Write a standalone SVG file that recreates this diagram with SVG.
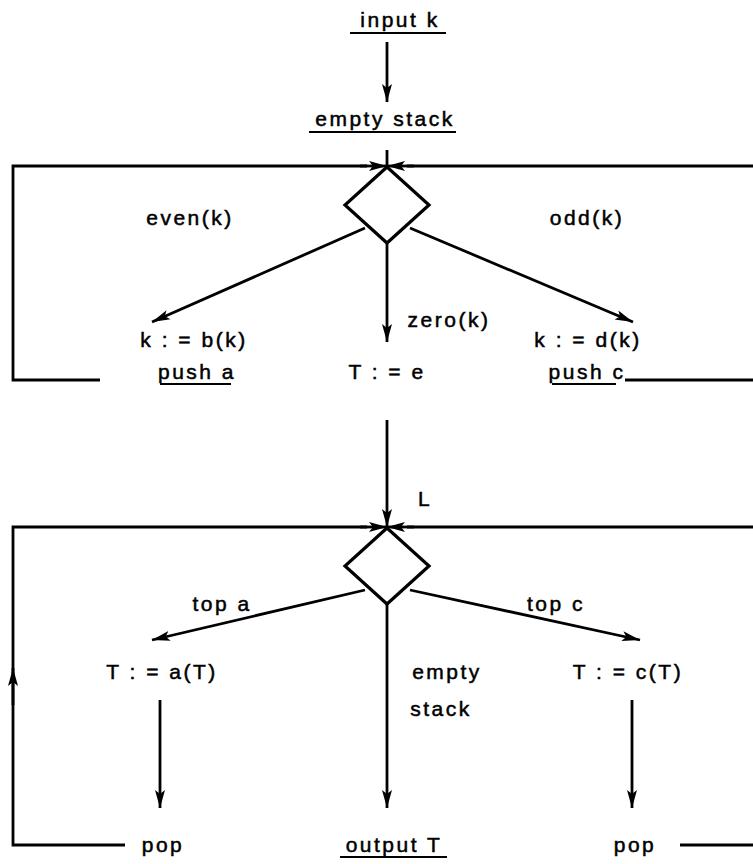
<svg xmlns="http://www.w3.org/2000/svg" width="753" height="864" viewBox="0 0 753 864">
  <defs>
    <marker id="arrow" viewBox="0 0 18 12" refX="18" refY="6" markerWidth="18" markerHeight="12" markerUnits="userSpaceOnUse" orient="auto">
      <path d="M0,1 L18,6 L0,11 L4,6 Z" fill="#000"/>
    </marker>
  </defs>
  <style>
    .t { font-family: "Liberation Sans", Arial, sans-serif; font-size: 21px; fill: #000; stroke: #000; stroke-width: 0.5; letter-spacing: 2.5px; text-anchor: middle; }
    .ln { fill: none; stroke: #000; stroke-width: 2.8; }
    .ar { fill: none; stroke: #000; stroke-width: 2.8; marker-end: url(#arrow); }
    .ul { stroke: #000; stroke-width: 2.2; }
    .dm { fill: #fff; stroke: #000; stroke-width: 3.2; }
  </style>

  <rect width="753" height="864" fill="#fff"/>

  <!-- connectors -->
  <g id="connectors">
    <!-- upper loop (push) -->
    <line class="ar" x1="387" y1="42" x2="387" y2="102"/>
    <line class="ln" x1="387" y1="150" x2="387" y2="168"/>
    <polyline class="ln" points="100,380 13,380 13,166 367,166"/>
    <polyline class="ln" points="625,380 753,380"/>
    <line class="ln" x1="753" y1="166" x2="407" y2="166"/>
    <line class="ar" x1="360" y1="166" x2="387" y2="166"/>
    <line class="ar" x1="414" y1="166" x2="387" y2="166"/>
    <line class="ar" x1="365" y1="228" x2="152" y2="322"/>
    <line class="ar" x1="410" y1="228" x2="633" y2="322"/>
    <line class="ar" x1="387" y1="243" x2="387" y2="342"/>

    <!-- lower loop (pop) -->
    <line class="ar" x1="387" y1="420" x2="387" y2="527"/>
    <polyline class="ln" points="125,845 13,845 13,527 367,527"/>
    <line class="ar" x1="13" y1="705" x2="13" y2="668"/>
    <line class="ln" x1="753" y1="527" x2="407" y2="527"/>
    <line class="ar" x1="360" y1="527" x2="387" y2="527"/>
    <line class="ar" x1="414" y1="527" x2="387" y2="527"/>
    <line class="ar" x1="365" y1="590" x2="152" y2="640"/>
    <line class="ar" x1="410" y1="590" x2="640" y2="640"/>
    <line class="ar" x1="387" y1="604" x2="387" y2="808"/>
    <line class="ar" x1="160" y1="700" x2="160" y2="808"/>
    <line class="ar" x1="632" y1="700" x2="632" y2="808"/>
    <line class="ln" x1="680" y1="845" x2="753" y2="845"/>
  </g>

  <!-- nodes -->
  <g id="input">
    <text class="t" x="400" y="27">input k</text>
    <line class="ul" x1="350" y1="33" x2="446" y2="33"/>
  </g>
  <g id="empty-stack">
    <text class="t" x="385" y="126">empty stack</text>
    <line class="ul" x1="309" y1="132" x2="456" y2="132"/>
  </g>
  <g id="decision-k">
    <polygon class="dm" points="387,167 429,205 387,243 345,205"/>
    <text class="t" x="190" y="225">even(k)</text>
    <text class="t" x="587" y="225">odd(k)</text>
    <text class="t" x="449" y="327">zero(k)</text>
  </g>
  <g id="push-a">
    <text class="t" x="194" y="347">k : = b(k)</text>
    <text class="t" x="197" y="379">push a</text>
    <line class="ul" x1="160" y1="384" x2="231" y2="384"/>
  </g>
  <g id="init-t">
    <text class="t" x="387" y="379">T : = e</text>
    <text class="t" x="425" y="506">L</text>
  </g>
  <g id="push-c">
    <text class="t" x="588" y="347">k : = d(k)</text>
    <text class="t" x="587" y="379">push c</text>
    <line class="ul" x1="552" y1="384" x2="616" y2="384"/>
  </g>
  <g id="decision-t">
    <polygon class="dm" points="387,528 429,566 387,604 345,566"/>
    <text class="t" x="222" y="611">top a</text>
    <text class="t" x="556" y="611">top c</text>
  </g>
  <g id="pop-a">
    <text class="t" x="162" y="679">T : = a(T)</text>
    <text class="t" x="163" y="852">pop</text>
  </g>
  <g id="output">
    <text class="t" x="447" y="679">empty</text>
    <text class="t" x="441" y="716">stack</text>
    <text class="t" x="394" y="852">output T</text>
    <line class="ul" x1="340" y1="857" x2="447" y2="857"/>
  </g>
  <g id="pop-c">
    <text class="t" x="628" y="679">T : = c(T)</text>
    <text class="t" x="635" y="852">pop</text>
  </g>
</svg>
